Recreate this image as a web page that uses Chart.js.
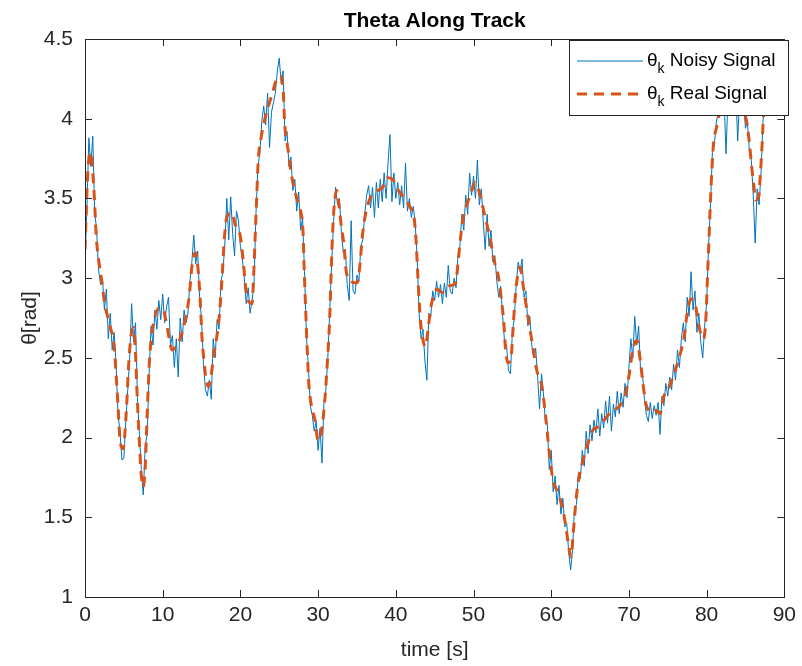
<!DOCTYPE html>
<html>
<head>
<meta charset="utf-8">
<title>Theta Along Track</title>
<script src="https://cdn.jsdelivr.net/npm/chart.js@4.4.1/dist/chart.umd.min.js"></script>
<style>
  html, body { margin: 0; padding: 0; background: #fff; }
  #wrap { width: 802px; height: 666px; }
</style>
</head>
<body>
<div id="wrap"><canvas id="thetaChart" width="802" height="666"></canvas></div>
<script>
// real (smooth) theta
const realTime = [0,0.35,0.7,1.0,1.2,1.45,1.8,2.1,2.5,3.1,
  3.75,4.05,4.25,4.5,4.9,5.3,5.6,5.9,6.25,6.5,
  6.75,7.0,7.2,7.5,7.75,8.0,8.25,8.5,8.9,9.5,
  10.0,10.4,10.8,11.2,11.7,12.3,12.9,13.4,13.8,14.2,
  14.6,14.85,15.05,15.3,15.6,15.9,16.2,16.55,17.2,17.6,
  17.95,18.3,18.9,19.3,20.0,20.4,20.7,21.0,21.5,21.7,
  21.9,22.1,22.3,22.7,23.2,23.6,24.0,24.6,25.1,25.5,
  25.7,26.15,26.6,27.2,27.7,28.05,28.2,28.4,28.6,28.8,
  29.1,29.6,30.0,30.4,30.75,31.1,31.5,31.7,31.9,32.1,
  32.4,32.7,33.0,33.3,33.6,34.2,35.0,35.4,35.65,35.95,
  36.6,37.4,38.3,38.9,39.6,40.2,41.1,41.9,42.35,42.6,
  42.8,43.0,43.2,43.5,43.8,44.2,44.6,45.3,46.0,46.8,
  47.7,48.0,48.3,48.6,49.2,49.6,50.2,50.9,51.5,52.1,
  52.6,53.2,53.6,53.9,54.1,54.4,54.8,55.05,55.3,55.6,
  56.0,56.4,56.8,57.3,57.7,58.1,58.8,59.2,59.5,59.8,
  60.25,60.9,61.5,61.95,62.3,62.55,62.8,63.0,63.2,63.5,
  64.1,64.7,65.4,66.2,67.3,68.1,69.0,69.6,70.05,70.5,
  71.0,71.5,71.8,72.2,72.8,73.5,74.0,74.5,75.2,75.8,
  76.4,77.1,77.5,78.0,78.6,79.0,79.6,79.9,80.1,80.3,
  80.5,80.7,80.9,81.3,81.6,82.2,83.0,83.8,84.5,85.2,
  85.5,85.8,86.1,86.3,86.7,86.9,87.1,87.3,87.5];
const realTheta = [3.18,3.65,3.79,3.66,3.51,3.26,3.10,3.00,2.85,2.72,
  2.57,2.36,2.20,1.99,1.93,2.15,2.44,2.63,2.69,2.53,
  2.22,1.97,1.79,1.69,1.82,2.14,2.44,2.61,2.74,2.81,
  2.81,2.74,2.63,2.55,2.57,2.63,2.74,2.88,3.09,3.16,
  3.03,2.84,2.63,2.49,2.36,2.32,2.38,2.51,2.72,2.97,
  3.26,3.39,3.41,3.34,3.26,3.09,2.93,2.86,2.84,3.01,
  3.26,3.51,3.74,3.89,4.01,4.08,4.14,4.24,4.27,4.18,
  3.97,3.80,3.64,3.51,3.43,3.30,3.07,2.80,2.55,2.34,
  2.21,2.11,1.98,2.03,2.17,2.40,2.76,3.07,3.32,3.47,
  3.55,3.45,3.32,3.22,3.05,2.98,2.97,3.09,3.24,3.36,
  3.49,3.54,3.57,3.63,3.62,3.56,3.50,3.44,3.38,3.24,
  3.05,2.86,2.72,2.61,2.57,2.70,2.84,2.93,2.91,2.95,
  2.97,3.09,3.24,3.36,3.47,3.52,3.60,3.51,3.38,3.26,
  3.12,3.01,2.86,2.72,2.57,2.47,2.49,2.65,2.84,2.99,
  3.07,2.95,2.82,2.67,2.55,2.43,2.32,2.17,2.03,1.88,
  1.73,1.65,1.55,1.42,1.30,1.25,1.38,1.50,1.61,1.73,
  1.86,1.96,2.05,2.07,2.14,2.17,2.21,2.28,2.40,2.55,
  2.61,2.47,2.34,2.21,2.16,2.17,2.15,2.26,2.32,2.40,
  2.49,2.63,2.78,2.87,2.82,2.70,2.62,2.74,2.99,3.24,
  3.49,3.70,3.85,3.95,4.02,4.10,4.14,4.12,4.08,3.97,
  3.85,3.70,3.57,3.49,3.51,3.64,3.80,4.00,4.15];

// noisy theta, one value every 0.25 s (4 per group = 1 second)
const noisyStep = 0.25;
const noisyTheta = [
  3.10,3.45,3.88,3.70, 3.89,3.42,3.30,3.05, 2.96,3.00,2.80,2.93, 2.62,2.78,2.55,2.66,
  2.46,2.14,2.04,1.86, 1.87,2.10,2.30,2.50, 2.84,2.60,2.72,2.25, 2.02,1.80,1.64,1.95,
  2.02,2.40,2.70,2.58, 2.80,2.68,2.86,2.74, 2.90,2.72,2.82,2.88, 2.58,2.64,2.44,2.62,
  2.38,2.75,2.60,2.80, 2.72,2.78,2.98,3.10, 3.27,3.09,3.17,2.88, 2.74,2.46,2.30,2.26,
  2.36,2.24,2.62,2.50, 2.74,2.68,2.98,3.04, 3.22,3.50,3.24,3.51, 3.28,3.14,3.42,3.36,
  3.20,3.12,3.00,2.84, 2.94,2.78,2.86,2.96, 3.40,3.70,3.78,3.98, 4.08,3.96,4.16,3.82,
  4.04,4.10,4.16,4.30, 4.38,4.22,4.30,3.86, 3.92,3.70,3.76,3.55, 3.62,3.42,3.54,3.30,
  3.38,3.04,2.64,2.44, 2.20,2.14,2.04,2.10, 1.92,2.06,1.84,2.22, 2.30,2.50,2.80,3.10,
  3.36,3.57,3.46,3.50, 3.28,3.16,3.18,2.96, 2.86,3.36,2.92,2.90, 3.02,2.98,3.20,3.24,
  3.40,3.52,3.58,3.44, 3.57,3.38,3.60,3.44, 3.62,3.48,3.66,3.50, 3.72,3.90,3.48,3.66,
  3.50,3.60,3.46,3.58, 3.44,3.72,3.42,3.50, 3.38,3.45,3.34,3.12, 2.78,2.62,2.68,2.48,
  2.36,2.78,2.76,2.92, 2.86,2.98,2.88,2.96, 2.84,2.97,2.88,3.08, 2.92,2.90,3.00,2.94,
  3.14,3.20,3.40,3.30, 3.52,3.40,3.66,3.52, 3.64,3.50,3.74,3.46, 3.56,3.36,3.18,3.40,
  3.20,3.30,3.10,3.14, 2.98,2.88,2.95,2.76, 2.60,2.58,2.42,2.40, 2.66,2.75,2.96,3.10,
  3.04,3.12,2.88,2.92, 2.70,2.76,2.58,2.50, 2.56,2.38,2.18,2.40, 2.28,2.10,2.08,1.80,
  1.92,1.66,1.76,1.58, 1.70,1.52,1.62,1.44, 1.46,1.28,1.17,1.30, 1.56,1.58,1.78,1.74,
  1.92,1.82,2.04,1.90, 2.08,1.98,2.11,2.03, 2.18,2.01,2.15,2.06, 2.23,2.09,2.26,2.04,
  2.21,2.13,2.29,2.15, 2.28,2.19,2.34,2.25, 2.44,2.62,2.50,2.76, 2.58,2.70,2.42,2.40,
  2.24,2.14,2.10,2.22, 2.12,2.20,2.14,2.22, 2.02,2.26,2.20,2.34, 2.26,2.38,2.30,2.46,
  2.36,2.55,2.44,2.62, 2.72,2.60,2.88,2.76, 3.04,2.80,2.92,2.66, 2.78,2.60,2.50,2.70,
  2.84,3.20,3.46,3.80, 3.84,3.98,4.04,4.10, 4.02,4.12,3.78,4.14, 4.04,4.16,4.06,4.18,
  3.86,4.14,4.04,4.10, 3.94,3.98,3.80,3.74, 3.52,3.22,3.56,3.46, 3.66,3.98,4.12
];

const xTicks = [0, 10, 20, 30, 40, 50, 60, 70, 80, 90];
const yTicks = [1, 1.5, 2, 2.5, 3, 3.5, 4, 4.5];

const axisColor = '#262626';
const fontFamily = '"Liberation Sans", Arial, Helvetica, sans-serif';
const noisyColor = '#0072BD';
const realColor = '#D95319';

const noisyPoints = noisyTheta.map((v, i) => ({ x: i * noisyStep, y: v }));
const realPoints = realTime.map((t, i) => ({ x: t, y: realTheta[i] }));

// box round the axes, with matlab style inward ticks, title and legend
const axesBox = {
  id: 'axesBox',
  afterDraw(chart) {
    const { ctx, chartArea: a, scales } = chart;
    ctx.save();
    ctx.strokeStyle = axisColor;
    ctx.lineWidth = 1;
    ctx.beginPath();
    xTicks.forEach(v => {
      const px = Math.round(scales.x.getPixelForValue(v)) + 0.5;
      ctx.moveTo(px, a.bottom); ctx.lineTo(px, a.bottom - 7);
      ctx.moveTo(px, a.top); ctx.lineTo(px, a.top + 7);
    });
    yTicks.forEach(v => {
      const py = Math.round(scales.y.getPixelForValue(v)) + 0.5;
      ctx.moveTo(a.left, py); ctx.lineTo(a.left + 7, py);
      ctx.moveTo(a.right, py); ctx.lineTo(a.right - 7, py);
    });
    ctx.stroke();
    ctx.strokeRect(Math.round(a.left) + 0.5, Math.round(a.top) + 0.5,
      Math.round(a.right - a.left), Math.round(a.bottom - a.top));

    // title
    ctx.fillStyle = '#000';
    ctx.font = 'bold 21px ' + fontFamily;
    ctx.textAlign = 'center';
    ctx.textBaseline = 'middle';
    ctx.fillText('Theta Along Track', (a.left + a.right) / 2, 21);

    // legend in the north east corner, drawn over the lines
    const lx = 569, ly = 40, lw = 219, lh = 75;
    ctx.fillStyle = '#fff';
    ctx.fillRect(lx, ly, lw, lh);
    ctx.strokeStyle = axisColor;
    ctx.strokeRect(lx + 0.5, ly + 0.5, lw, lh);
    const rows = [
      { y: 61, label: ' Noisy Signal', color: noisyColor, width: 1, dash: [] },
      { y: 94, label: ' Real Signal', color: realColor, width: 3, dash: [10, 7] }
    ];
    rows.forEach(r => {
      ctx.beginPath();
      ctx.strokeStyle = r.color;
      ctx.lineWidth = r.width;
      ctx.setLineDash(r.dash);
      ctx.moveTo(577, r.y); ctx.lineTo(643, r.y);
      ctx.stroke();
      ctx.setLineDash([]);
      ctx.fillStyle = '#000';
      ctx.textAlign = 'left';
      ctx.textBaseline = 'middle';
      let x = 647;
      ctx.font = '19px ' + fontFamily;
      ctx.fillText('θ', x, r.y);
      x += ctx.measureText('θ').width;
      ctx.font = '14px ' + fontFamily;
      ctx.fillText('k', x, r.y + 8);
      x += ctx.measureText('k').width;
      ctx.font = '19px ' + fontFamily;
      ctx.fillText(r.label, x, r.y);
    });
    ctx.restore();
  }
};

new Chart(document.getElementById('thetaChart'), {
  type: 'line',
  data: {
    datasets: [{
      label: 'θk Noisy Signal',
      data: noisyPoints,
      borderColor: noisyColor,
      borderWidth: 1,
      pointRadius: 0,
      tension: 0,
      order: 1
    }, {
      label: 'θk Real Signal',
      data: realPoints,
      borderColor: realColor,
      borderWidth: 3,
      borderDash: [10, 7],
      pointRadius: 0,
      cubicInterpolationMode: 'monotone',
      order: 0
    }]
  },
  options: {
    responsive: false,
    animation: false,
    layout: { padding: { left: 0, right: 13, top: 39, bottom: 0 } },
    plugins: {
      legend: { display: false },
      title: { display: false },
      tooltip: { enabled: false }
    },
    scales: {
      x: {
        type: 'linear',
        min: 0,
        max: 90,
        afterBuildTicks: s => { s.ticks = xTicks.map(v => ({ value: v })); },
        afterFit: s => { s.height = 69; },
        grid: { display: false, drawTicks: false },
        border: { display: false },
        ticks: { color: axisColor, padding: 6, font: { family: fontFamily, size: 21 }, maxRotation: 0,
          callback: v => String(v) },
        title: { display: true, text: 'time [s]', color: axisColor, padding: { top: 0, bottom: 3 },
          font: { family: fontFamily, size: 21 } }
      },
      y: {
        type: 'linear',
        min: 1,
        max: 4.5,
        afterBuildTicks: s => { s.ticks = yTicks.map(v => ({ value: v })); },
        afterFit: s => { s.width = 85; },
        grid: { display: false, drawTicks: false },
        border: { display: false },
        ticks: { color: axisColor, padding: 12, font: { family: fontFamily, size: 21 },
          callback: v => String(v) },
        title: { display: true, text: 'θ[rad]', color: axisColor, padding: { top: 18, bottom: 0 },
          font: { family: fontFamily, size: 21 } }
      }
    }
  },
  plugins: [axesBox]
});
</script>
</body>
</html>
